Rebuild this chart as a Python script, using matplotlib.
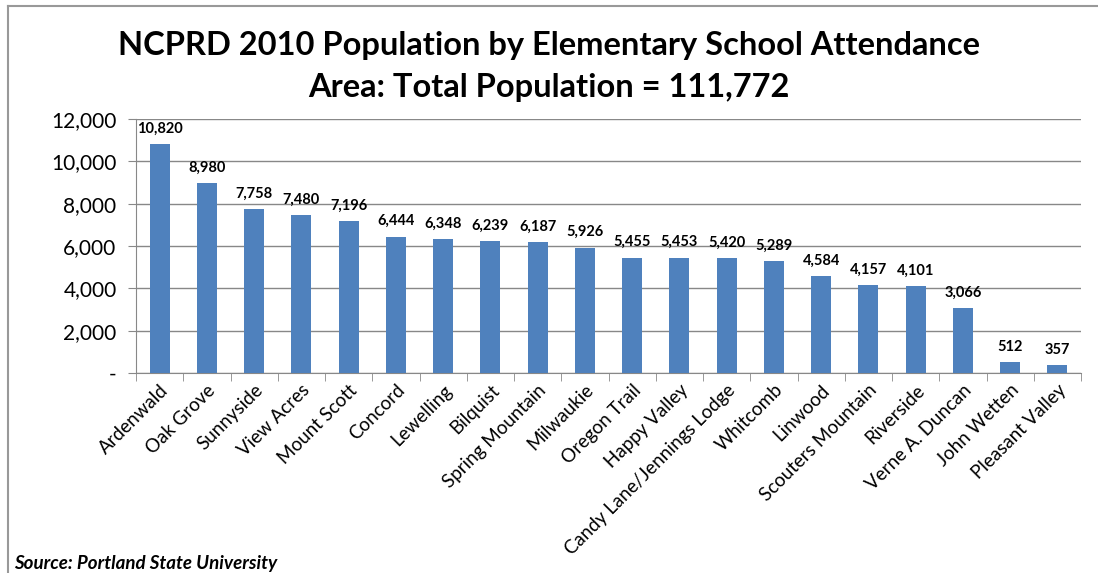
import matplotlib
matplotlib.use("Agg")
import matplotlib.pyplot as plt
from matplotlib.ticker import FuncFormatter, FixedLocator
from matplotlib.lines import Line2D

schools = ["Ardenwald", "Oak Grove", "Sunnyside", "View Acres", "Mount Scott", "Concord",
           "Lewelling", "Bilquist", "Spring Mountain", "Milwaukie", "Oregon Trail",
           "Happy Valley", "Candy Lane/Jennings Lodge", "Whitcomb", "Linwood",
           "Scouters Mountain", "Riverside", "Verne A. Duncan", "John Wetten", "Pleasant Valley"]
population = [10820, 8980, 7758, 7480, 7196, 6444, 6348, 6239, 6187, 5926, 5455,
              5453, 5420, 5289, 4584, 4157, 4101, 3066, 512, 357]
y_ticks = [0, 2000, 4000, 6000, 8000, 10000, 12000]

plt.rcParams['font.family'] = ['Lato', 'DejaVu Sans']

fig = plt.figure(figsize=(10.98, 5.73), dpi=100)
ax = fig.add_axes([136/1098, 1-373/573, (1081-136)/1098, (373-119)/573])

x = list(range(len(schools)))
ax.bar(x, population, width=0.42, color="#4F81BD", zorder=3)
ax.set_xlim(-0.5, len(schools)-0.5)
ax.set_ylim(0, 12000)
ax.set_yticks(y_ticks)
ax.yaxis.set_major_formatter(FuncFormatter(lambda v, p: "-" if v == 0 else f"{int(v):,}"))
ax.grid(axis='y', color="#888888", linewidth=1, zorder=0)

ax.set_xticks(x)
ax.set_xticklabels(schools, rotation=45, ha='right', rotation_mode='anchor', fontsize=13.5)
ax.tick_params(axis='x', length=0, pad=6)
ax.xaxis.set_minor_locator(FixedLocator([i - 0.5 for i in range(len(schools)+1)]))
ax.tick_params(axis='x', which='minor', length=6, color="#888888", direction='out')
ax.tick_params(axis='y', length=6, color="#888888", direction='out', labelsize=15, pad=8)

for s in ['top', 'right']:
    ax.spines[s].set_visible(False)
for s in ['left', 'bottom']:
    ax.spines[s].set_color("#888888")

for xi, v in zip(x, population):
    ax.annotate(f"{v:,}", (xi, v), xytext=(0, 6), textcoords='offset points',
                ha='center', va='bottom', fontsize=10.5, fontweight='bold')

fig.text(0.5, 1-45/573, "NCPRD 2010 Population by Elementary School Attendance",
         ha='center', va='center', fontsize=23.5, fontweight='bold')
fig.text(0.5, 1-88/573, "Area: Total Population = 111,772",
         ha='center', va='center', fontsize=23.5, fontweight='bold')
fig.text(14/1098, 1-563/573, "Source: Portland State University",
         ha='left', va='center', fontsize=13.5, fontweight='bold', style='italic')

fig.add_artist(Line2D([8/1098, 8/1098], [0, 1-6/573], transform=fig.transFigure, color="#999999", lw=1.5))
fig.add_artist(Line2D([8/1098, 1], [1-6/573, 1-6/573], transform=fig.transFigure, color="#999999", lw=1.5))

fig.savefig("out.png", dpi=100)
